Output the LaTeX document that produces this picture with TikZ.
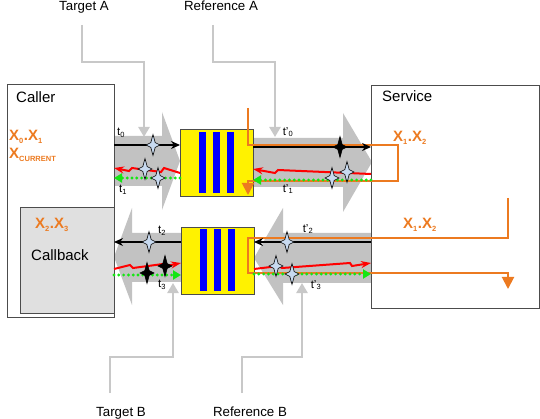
\documentclass[tikz,border=0pt]{standalone}
\usepackage{fontspec}
\setmainfont{Liberation Sans}
\usetikzlibrary{arrows.meta}
\usetikzlibrary{calc}

\definecolor{lanegray}{RGB}{194,194,194}
\definecolor{ptrgray}{RGB}{200,200,200}
\definecolor{qorange}{RGB}{236,122,32}
\definecolor{starblue}{RGB}{200,218,240}
\definecolor{cbgray}{RGB}{224,224,224}
\definecolor{dotgreen}{RGB}{20,230,20}

\newcommand{\sub}[1]{\textsubscript{\fontsize{7.5}{8}\selectfont #1}}

\begin{document}
\begin{tikzpicture}[x=1pt,y=-1pt,
	box/.style={draw=black!70,line width=0.8pt,inner sep=0pt,outer sep=0pt,anchor=north west},
	lane/.style={fill=lanegray,draw=none},
	pointer/.style={draw=ptrgray,line width=2.4pt,-{Triangle[length=10pt,width=11pt]}},
	blk/.style={line width=1.4pt,-{Stealth[length=9pt,width=8pt]}},
	bolt/.style={red,line width=2pt,line join=miter,-{Stealth[length=10pt,width=7pt]}},
	dots/.style={dotgreen,line width=3.2pt,line cap=round,dash pattern=on 0pt off 4.8pt,
		-{Triangle[length=8pt,width=9pt]}},
	orng/.style={qorange,line width=2pt,-{Triangle[length=12pt,width=12pt]}},
	lbl/.style={font=\fontsize{13.3}{15}\selectfont,inner sep=0pt,anchor=base},
	title/.style={font=\fontsize{15}{17}\selectfont,inner sep=0pt,anchor=base west},
	xtxt/.style={text=qorange,font=\fontsize{15}{17}\selectfont\bfseries,inner sep=0pt,anchor=base west},
	tlbl/.style={font=\fontsize{11.5}{12}\selectfont,inner sep=0pt},
	sparkle/.pic={\filldraw[line width=0.6pt,pic actions] (0,-10.5) -- (2.2,-2.4) -- (7,0) -- (2.2,2.4)
		-- (0,10.5) -- (-2.2,2.4) -- (-7,0) -- (-2.2,-2.4) -- cycle;}]
	\useasboundingbox (0,0) rectangle (540,419);

	% big gray lanes
	\fill[lane] (114,136) -- (162,136) -- (162,112) -- (180,161) -- (162,210) -- (162,186) -- (114,186) -- cycle;
	\fill[lane] (253,138) -- (343,138) -- (343,113) -- (372,162) -- (343,212) -- (343,187) -- (253,187) -- cycle;
	\fill[lane] (181,233) -- (132,233) -- (132,208) -- (114,257) -- (132,305) -- (132,282) -- (181,282) -- cycle;
	\fill[lane] (371,233) -- (283,233) -- (283,208) -- (254,258) -- (283,305) -- (283,283) -- (371,283) -- cycle;

	% labels and pointers
	\node[lbl] (tgtA) at (84,11) {Target A};
	\node[lbl] (refA) at (221,11) {Reference A};
	\node[lbl] (tgtB) at (121,416) {Target B};
	\node[lbl] (refB) at (250,416) {Reference B};
	\draw[pointer] (82,25) -- (82,62) -- (144,62) -- (144,137);
	\draw[pointer] (213,25) -- (213,62) -- (275,62) -- (275,137);
	\draw[pointer] (110,393) -- (110,357) -- (173,357) -- (173,283);
	\draw[pointer] (242,393) -- (242,357) -- (302,357) -- (302,283);

	% boxes
	\node[box,minimum width=107pt,minimum height=233pt] (caller) at (7,84) {};
	\node[box,minimum width=168pt,minimum height=223pt] (service) at (371,85) {};
	\node[box,fill=cbgray,minimum width=94pt,minimum height=106pt] (callback) at (20,207) {};
	\node[box,fill=yellow,minimum width=73pt,minimum height=67pt] (queueA) at (180,129) {};
	\node[box,fill=yellow,minimum width=73pt,minimum height=67pt] (queueB) at (181,227) {};
	\foreach \bx in {19,33,47} {
		\fill[blue] ($(queueA.north west)+(\bx,3)$) rectangle ++(7,61);
		\fill[blue] ($(queueB.north west)+(\bx,2)$) rectangle ++(7,62);
	}

	\node[title] (callerT) at (16,103) {Caller};
	\node[title] (serviceT) at (382,102) {Service};
	\node[title] (callbackT) at (31,261) {Callback};
	\node[xtxt] (x01) at (9,141) {X\sub{0}.X\sub{1}};
	\node[xtxt] (xcur) at (9,159) {X\sub{CURRENT}};
	\node[xtxt] (x23) at (35,229) {X\sub{2}.X\sub{3}};
	\node[xtxt] (x12a) at (393,142) {X\sub{1}.X\sub{2}};
	\node[xtxt] (x12b) at (403,229) {X\sub{1}.X\sub{2}};

	% orange flows
	\draw[orng] (248,108) -- (248,145) -- (398,145) -- (398,181) -- (248,181) -- (248,195);
	\draw[orng] (508,198) -- (508,238) -- (248,238) -- (248,273) -- (508,273) -- (508,289);

	% upper lane, caller side
	\draw[blk] (caller.east |- 0,145) -- (queueA.west |- 0,145);
	\draw[bolt] (queueA.west |- 0,173) -- (164,168) -- (161,172) -- (132,168) -- (129,171) -- (caller.east |- 0,168);
	\draw[dots] (queueA.west |- 0,178) -- (caller.east |- 0,178);
	\node[tlbl] (t0) at (121,133) {t\sub{0}};
	\node[tlbl] (t1) at (123,190) {t\sub{1}};
	\pic[fill=starblue] at (153,145) {sparkle};
	\pic[fill=starblue] at (145,169) {sparkle};
	\pic[fill=starblue] at (158,178) {sparkle};

	% upper lane, service side
	\draw[blk] (queueA.east |- 0,147) -- (service.west |- 0,147);
	\draw[bolt] (service.west |- 0,174) -- (278,170) -- (275,173) -- (queueA.east |- 0,169);
	\draw[dots] (service.west |- 0,180) -- (queueA.east |- 0,180);
	\node[tlbl] (t0p) at (288,132) {t'\sub{0}};
	\node[tlbl] (t1p) at (288,189) {t'\sub{1}};
	\pic[fill=black] at (340,147) {sparkle};
	\pic[fill=starblue] at (332,178) {sparkle};
	\pic[fill=starblue] at (347,172) {sparkle};

	% lower lane, service side
	\draw[blk] (service.west |- 0,242) -- (queueB.east |- 0,242);
	\draw[bolt] (queueB.east |- 0,269) -- (279,266) -- (282,268) -- (350,263) -- (352,266) -- (service.west |- 0,263);
	\draw[dots] (queueB.east |- 0,274) -- (service.west |- 0,274);
	\node[tlbl] (t2p) at (308,229) {t'\sub{2}};
	\node[tlbl] (t3p) at (316,285) {t'\sub{3}};
	\pic[fill=starblue] at (287,242) {sparkle};
	\pic[fill=starblue] at (276,266) {sparkle};
	\pic[fill=starblue] at (292,274) {sparkle};

	% lower lane, caller side
	\draw[blk] (queueB.west |- 0,242) -- (caller.east |- 0,242);
	\draw[bolt] (caller.east |- 0,269) -- (130,265) -- (133,268) -- (163,264) -- (166,266) -- (queueB.west |- 0,263);
	\draw[dots] (caller.east |- 0,275) -- (queueB.west |- 0,275);
	\node[tlbl] (t2) at (162,231) {t\sub{2}};
	\node[tlbl] (t3) at (162,285) {t\sub{3}};
	\pic[fill=starblue] at (149,242) {sparkle};
	\pic[fill=black] at (147,273) {sparkle};
	\pic[fill=black] at (165,266) {sparkle};
\end{tikzpicture}
\end{document}
